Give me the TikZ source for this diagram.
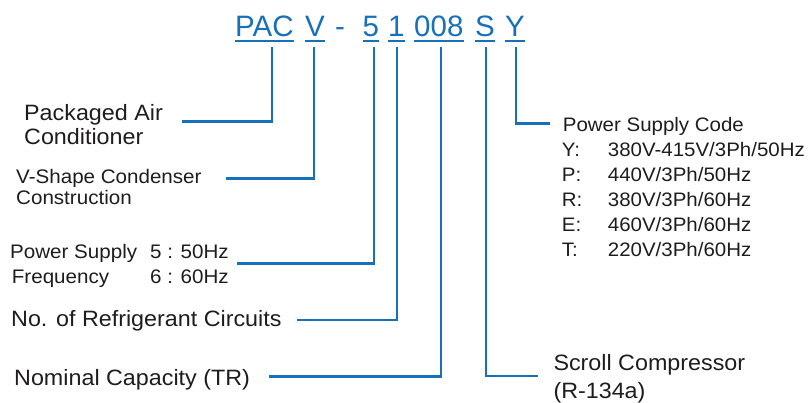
\documentclass[tikz,border=0pt]{standalone}
\usepackage{fontspec}
\setmainfont{Liberation Sans}
\newfontfamily\labfont[FakeStretch=1.05]{Liberation Sans}
\definecolor{codeblue}{RGB}{22,112,186}
\definecolor{txtgray}{RGB}{30,28,29}
\begin{document}
\begin{tikzpicture}[x=1pt,y=-1pt,
  code/.style={inner sep=0pt,anchor=base west,text=codeblue,font=\fontsize{29.5}{30}\selectfont},
  uline/.style={draw=codeblue,line width=2pt},
  conn/.style={draw=codeblue,line width=2.6pt},
  biglab/.style={inner sep=0pt,anchor=base west,text=txtgray,font=\labfont\fontsize{22.2}{24}\selectfont},
  midlab/.style={inner sep=0pt,anchor=base west,text=txtgray,font=\labfont\fontsize{19.6}{22}\selectfont},
  smalllab/.style={inner sep=0pt,anchor=base west,text=txtgray,font=\labfont\fontsize{19.5}{22}\selectfont}]
\useasboundingbox (0,0) rectangle (808,403);
% code letters
\node[code] (pac) at (235,36.7) {PAC};
\node[code] (v) at (305,36.7) {V};
\node[code] (dash) at (335,36.7) {-};
\node[code] (five) at (362.5,36.7) {5};
\node[code] (one) at (388,36.7) {1};
\node[code] (cap) at (414,36.7) {008};
\node[code] (s) at (475,36.7) {S};
\node[code] (y) at (505,36.7) {Y};
\foreach \n in {pac,v,five,one,cap,s,y}
  \draw[uline] ([yshift=-4pt]\n.base west) -- ([yshift=-4pt]\n.base east);
% labels
\node[biglab] (pa1) at (24,120.7) {Packaged Air};
\node[biglab] (pa2) at (24,145) {Conditioner};
\node[midlab] (vs1) at (16,183.3) {V-Shape Condenser};
\node[midlab] (vs2) at (16,205) {Construction};
\node[midlab] (ps1) at (10,258.3) {Power Supply};
\node[midlab] (ps1v) at (150,258.3) {5 : 50Hz};
\node[midlab] (ps2) at (11.7,283.3) {Frequency};
\node[midlab] (ps2v) at (150,283.3) {6 : 60Hz};
\node[biglab] (rc) at (11,326.7) {No. of Refrigerant Circuits};
\node[biglab] (nc) at (14,385) {Nominal Capacity (TR)};
\node[biglab] (sc1) at (553.3,370.7) {Scroll Compressor};
\node[biglab] (sc2) at (553.3,398) {(R-134a)};
\node[smalllab] (psc) at (562.7,131.7) {Power Supply Code};
\foreach \l/\v/\yy [count=\i] in {Y:/380V-415V\slash 3Ph\slash 50Hz/156.7,
    P:/440V\slash 3Ph\slash 50Hz/181.7,
    R:/380V\slash 3Ph\slash 60Hz/206.7,
    E:/460V\slash 3Ph\slash 60Hz/231.7,
    T:/220V\slash 3Ph\slash 60Hz/256.7}{
  \node[smalllab] (k\i) at (561.7,\yy) {\l};
  \node[smalllab] (kv\i) at (607.7,\yy) {\v};
}
% connector coordinates
\coordinate (tpac) at (272,46.7);  \coordinate (epac) at (182,121.3);
\coordinate (tv) at (314,46.7);    \coordinate (ev) at (226,178.3);
\coordinate (tfive) at (374,46.7); \coordinate (efive) at (237,263.3);
\coordinate (tone) at (397,46.7);  \coordinate (eone) at (297,320);
\coordinate (tcap) at (441,46.7);  \coordinate (ecap) at (269,376.7);
\coordinate (ts) at (486,46.7);    \coordinate (es) at (538,376);
\coordinate (ty) at (516,46.7);    \coordinate (ey) at (550,123.3);
\draw[conn] (tpac) |- (epac);
\draw[conn] (tv) |- (ev);
\draw[conn] (tfive) |- (efive);
\draw[conn] (tone) |- (eone);
\draw[conn] (tcap) |- (ecap);
\draw[conn] (ts) |- (es);
\draw[conn] (ty) |- (ey);
\end{tikzpicture}
\end{document}
